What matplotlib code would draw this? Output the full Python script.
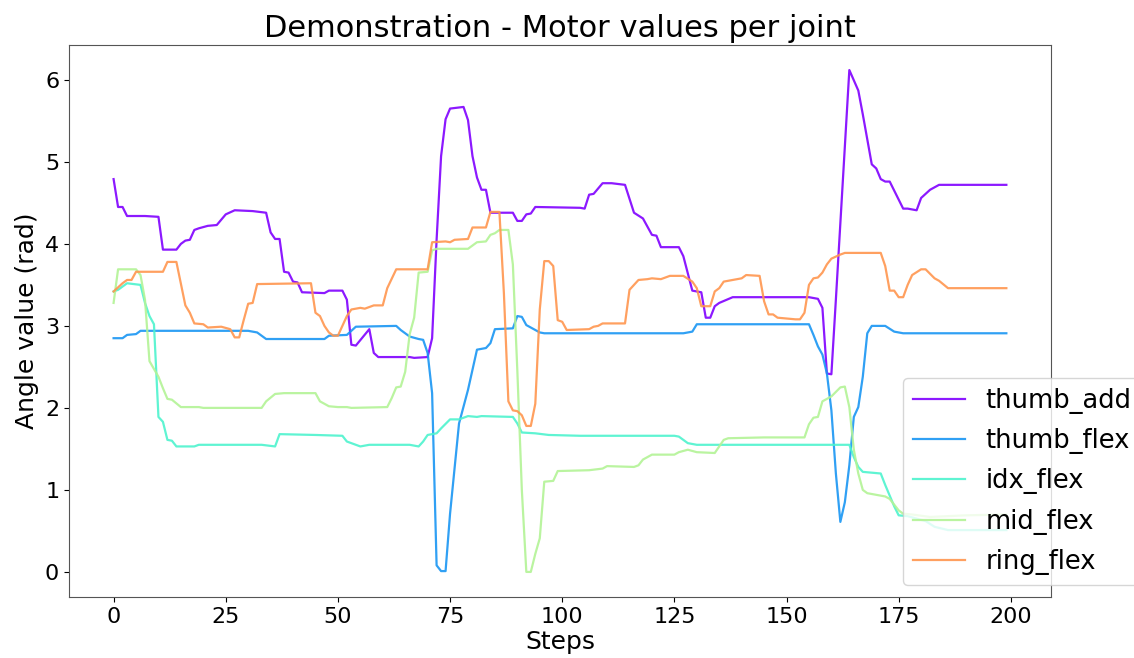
import matplotlib
matplotlib.use("Agg")
import matplotlib.pyplot as plt
import numpy as np

# breakpoints (step, angle in rad)
thumb_add_x = [0, 1, 2, 3, 7, 10, 11, 14, 15, 16, 17, 18, 19, 21, 23, 25, 27, 31, 34, 35, 36, 37, 38, 39,
               40, 41, 42, 47, 48, 51, 52, 53, 54, 57, 58, 59, 66, 67, 70, 71, 72, 73, 74, 75, 78, 79, 80,
               81, 82, 83, 84, 89, 90, 91, 92, 93, 94, 104, 105, 106, 107, 109, 111, 114, 116, 118, 120,
               121, 122, 126, 127, 129, 131, 132, 133, 134, 135, 138, 155, 157, 158, 159, 160, 161, 164,
               166, 167, 169, 170, 171, 172, 173, 176, 177, 179, 180, 182, 184, 199]
thumb_add_y = [4.79, 4.45, 4.45, 4.34, 4.34, 4.33, 3.93, 3.93, 4.00, 4.04, 4.05, 4.17, 4.19, 4.22, 4.23,
               4.36, 4.41, 4.40, 4.38, 4.14, 4.06, 4.06, 3.66, 3.65, 3.54, 3.53, 3.41, 3.40, 3.43, 3.43,
               3.32, 2.77, 2.76, 2.96, 2.67, 2.62, 2.62, 2.61, 2.62, 2.85, 4.05, 5.07, 5.52, 5.65, 5.67,
               5.51, 5.07, 4.81, 4.66, 4.66, 4.38, 4.38, 4.28, 4.28, 4.36, 4.37, 4.45, 4.44, 4.43, 4.60,
               4.61, 4.74, 4.74, 4.72, 4.38, 4.31, 4.11, 4.10, 3.96, 3.96, 3.85, 3.43, 3.41, 3.10, 3.10,
               3.24, 3.28, 3.35, 3.35, 3.33, 3.22, 2.42, 2.41, 3.32, 6.12, 5.87, 5.58, 4.97, 4.92, 4.79,
               4.76, 4.76, 4.43, 4.43, 4.41, 4.56, 4.66, 4.72, 4.72]

thumb_flex_x = [0, 2, 3, 5, 6, 30, 32, 34, 47, 48, 52, 54, 63, 64, 66, 68, 69, 70, 71, 72, 73, 74, 75, 77,
                79, 81, 83, 84, 85, 89, 90, 91, 92, 93, 95, 96, 127, 129, 130, 155, 156, 157, 158, 159,
                160, 161, 162, 163, 164, 165, 166, 167, 168, 169, 172, 174, 176, 199]
thumb_flex_y = [2.85, 2.85, 2.89, 2.90, 2.94, 2.94, 2.92, 2.84, 2.84, 2.88, 2.89, 2.99, 3.00, 2.95, 2.87,
                2.84, 2.83, 2.67, 2.18, 0.08, 0.01, 0.01, 0.71, 1.81, 2.22, 2.71, 2.73, 2.79, 2.96, 2.97,
                3.12, 3.11, 3.01, 2.98, 2.92, 2.91, 2.91, 2.93, 3.02, 3.02, 2.89, 2.75, 2.65, 2.42, 1.97,
                1.20, 0.61, 0.85, 1.30, 1.89, 2.01, 2.38, 2.91, 3.00, 3.00, 2.93, 2.91, 2.91]

idx_flex_x = [0, 1, 3, 6, 7, 8, 9, 10, 11, 12, 13, 14, 18, 19, 33, 36, 37, 45, 51, 52, 55, 57, 66, 68, 69,
              70, 72, 73, 75, 77, 79, 81, 82, 89, 90, 91, 94, 97, 104, 125, 126, 128, 130, 164, 165, 166,
              167, 171, 172, 173, 174, 175, 177, 181, 183, 186, 199]
idx_flex_y = [3.42, 3.44, 3.52, 3.50, 3.28, 3.12, 3.02, 1.89, 1.83, 1.61, 1.60, 1.53, 1.53, 1.55, 1.55,
              1.53, 1.68, 1.67, 1.66, 1.59, 1.53, 1.55, 1.55, 1.53, 1.59, 1.67, 1.69, 1.75, 1.86, 1.86,
              1.90, 1.89, 1.90, 1.89, 1.81, 1.70, 1.69, 1.67, 1.66, 1.66, 1.65, 1.57, 1.55, 1.55, 1.40,
              1.28, 1.22, 1.20, 1.06, 0.93, 0.80, 0.69, 0.68, 0.62, 0.55, 0.51, 0.51]

mid_flex_x = [0, 1, 5, 6, 7, 8, 10, 11, 12, 13, 15, 19, 20, 33, 34, 36, 38, 45, 46, 48, 50, 52, 53, 61,
              62, 63, 64, 65, 66, 67, 68, 70, 71, 72, 79, 81, 83, 84, 85, 86, 88, 89, 90, 91, 92, 93, 94,
              95, 96, 98, 99, 106, 109, 110, 116, 117, 118, 120, 125, 126, 128, 130, 134, 136, 137, 145,
              154, 155, 156, 157, 158, 160, 162, 163, 164, 165, 166, 167, 168, 172, 173, 175, 176, 178,
              182, 190, 199]
mid_flex_y = [3.28, 3.69, 3.69, 3.62, 3.32, 2.57, 2.38, 2.24, 2.11, 2.10, 2.01, 2.01, 2.00, 2.00, 2.08,
              2.17, 2.18, 2.18, 2.08, 2.02, 2.01, 2.01, 2.00, 2.01, 2.12, 2.25, 2.26, 2.44, 2.90, 3.10,
              3.65, 3.66, 3.92, 3.94, 3.94, 4.02, 4.03, 4.11, 4.13, 4.17, 4.17, 3.75, 2.45, 1.00, 0.00,
              0.00, 0.22, 0.41, 1.10, 1.11, 1.23, 1.24, 1.26, 1.29, 1.28, 1.30, 1.37, 1.43, 1.43, 1.46,
              1.49, 1.46, 1.45, 1.61, 1.63, 1.64, 1.64, 1.80, 1.88, 1.89, 2.08, 2.14, 2.25, 2.26, 2.01,
              1.49, 1.20, 1.00, 0.96, 0.92, 0.89, 0.75, 0.71, 0.70, 0.67, 0.69, 0.70]

ring_flex_x = [0, 2, 3, 4, 5, 11, 12, 14, 16, 17, 18, 20, 21, 24, 26, 27, 28, 29, 30, 31, 32, 44, 45, 46,
               47, 48, 49, 50, 52, 53, 55, 56, 58, 60, 61, 63, 70, 71, 74, 75, 76, 79, 80, 83, 84, 86, 87,
               88, 89, 90, 91, 92, 93, 94, 95, 96, 97, 98, 99, 100, 101, 106, 107, 108, 109, 114, 115,
               117, 119, 120, 122, 124, 127, 129, 130, 131, 133, 134, 135, 136, 138, 140, 141, 144, 145,
               146, 147, 148, 152, 153, 154, 155, 156, 157, 158, 159, 160, 162, 163, 171, 172, 173, 174,
               175, 176, 177, 178, 180, 181, 183, 184, 186, 199]
ring_flex_y = [3.42, 3.52, 3.56, 3.56, 3.66, 3.66, 3.78, 3.78, 3.25, 3.16, 3.03, 3.02, 2.98, 2.99, 2.96,
               2.86, 2.86, 3.07, 3.27, 3.28, 3.51, 3.52, 3.16, 3.12, 3.00, 2.92, 2.88, 2.88, 3.12, 3.20,
               3.22, 3.21, 3.25, 3.25, 3.46, 3.69, 3.69, 4.02, 4.03, 4.02, 4.05, 4.06, 4.20, 4.20, 4.39,
               4.39, 3.40, 2.08, 1.97, 1.96, 1.91, 1.78, 1.78, 2.05, 3.20, 3.79, 3.79, 3.73, 3.07, 3.05,
               2.95, 2.96, 2.99, 3.00, 3.03, 3.03, 3.44, 3.56, 3.57, 3.58, 3.57, 3.61, 3.61, 3.54, 3.46,
               3.24, 3.24, 3.42, 3.46, 3.54, 3.56, 3.58, 3.62, 3.61, 3.30, 3.14, 3.14, 3.10, 3.08, 3.08,
               3.16, 3.50, 3.58, 3.59, 3.65, 3.75, 3.82, 3.87, 3.89, 3.89, 3.73, 3.43, 3.43, 3.35, 3.35,
               3.50, 3.62, 3.69, 3.69, 3.58, 3.55, 3.46, 3.46]

joints = ["thumb_add", "thumb_flex", "idx_flex", "mid_flex", "ring_flex"]
series = [(thumb_add_x, thumb_add_y), (thumb_flex_x, thumb_flex_y), (idx_flex_x, idx_flex_y),
          (mid_flex_x, mid_flex_y), (ring_flex_x, ring_flex_y)]

colors = plt.cm.rainbow(np.linspace(0, 0.8, len(joints)))

fig = plt.figure(figsize=(11.34, 6.58), dpi=100)
ax = fig.add_axes([0.0608, 0.0927, 0.866, 0.839])
for (xs, ys), name, c in zip(series, joints, colors):
    ax.plot(xs, ys, color=c, lw=1.6, alpha=0.9, label=name)

ax.set_title("Demonstration - Motor values per joint", fontsize=22)
ax.set_xlabel("Steps", fontsize=18, labelpad=2)
ax.set_ylabel("Angle value (rad)", fontsize=18)
ax.tick_params(labelsize=16)
ax.set_xticks(np.arange(0, 201, 25))
ax.legend(fontsize=18.5, loc="lower left", bbox_to_anchor=(0.7963, 0.111),
          bbox_transform=fig.transFigure, borderaxespad=0, labelspacing=0.55)
for s in ax.spines.values():
    s.set_color("#555555")

fig.savefig("out.png", dpi=100)
plt.close()
